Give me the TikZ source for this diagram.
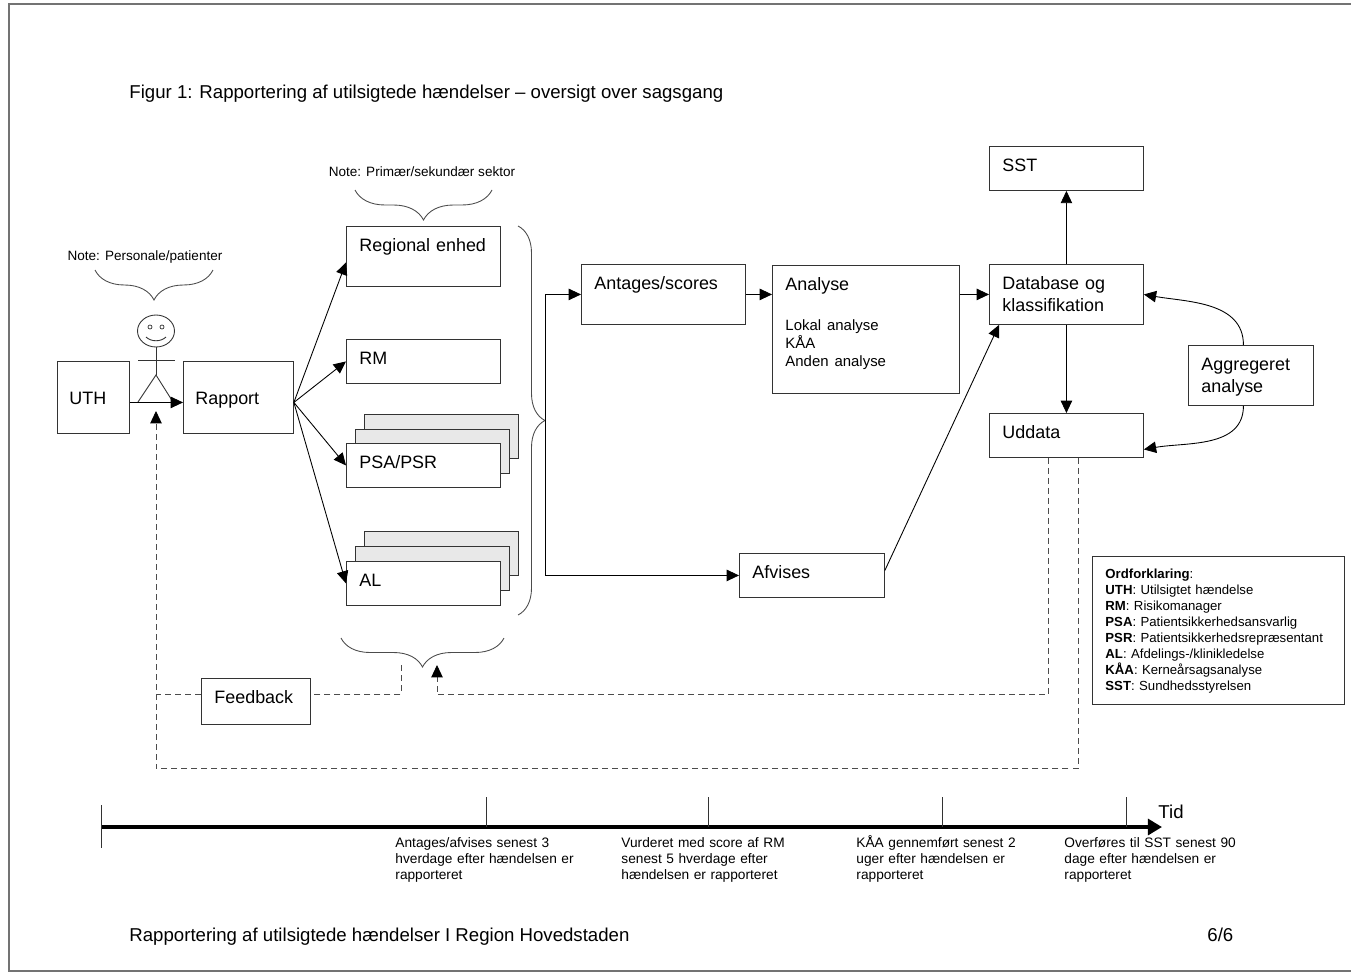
\documentclass[tikz,border=0pt]{standalone}
\usepackage{fontspec}
\setmainfont{Liberation Sans}
\usetikzlibrary{arrows.meta,decorations.pathreplacing}

\newcommand{\boxtxt}{\fontsize{10.2}{12.4}\selectfont}
\newcommand{\listtxt}{\fontsize{8.5}{10.2}\selectfont}
\newcommand{\notetxt}{\fontsize{7.7}{9.4}\selectfont}
\newcommand{\legendtxt}{\fontsize{7.5}{9.1}\selectfont}
\newcommand{\timetxt}{\fontsize{7.8}{9.35}\selectfont}
\newcommand{\titletxt}{\fontsize{10.6}{12.8}\selectfont}

\begin{document}
\begin{tikzpicture}[x=0.02cm,y=0.02cm,>={Triangle[length=7pt,width=6.5pt]},
  line width=0.5pt,
  box/.style 2 args={draw=black!80,fill=white,anchor=north west,
    inner xsep=0.26cm,inner ysep=0pt,align=left,text width=#1-0.52cm,
    text height=0.5cm,text depth=#2-0.5cm,font=\boxtxt},
  cbox/.style 2 args={box={#1}{#2},inner xsep=0.24cm,text width=#1-0.48cm,
    text height=0.86cm,text depth=#2-0.86cm},
  stack/.style={fill=black!9},
  legend/.style={draw=black!80,anchor=north west,inner xsep=0.26cm,
    inner ysep=0pt,align=left,text width=4.52cm,text height=0.44cm,
    text depth=2.52cm,font=\legendtxt},
  curly/.style={draw=black!70,decorate,decoration={brace,amplitude=#1}},
  fb/.style={draw=black!70,dash pattern=on 3.4pt off 2.3pt},
  fbtip/.style={-{Triangle[length=7pt,width=6.5pt,black]}},
  note/.style={font=\notetxt,inner sep=0pt,anchor=base},
  when/.style={font=\timetxt,inner sep=0pt,anchor=base west,
    text width=4cm,align=left},
  plain/.style={font=\titletxt,inner sep=0pt,anchor=base west}]

  \useasboundingbox (0,0) rectangle (1351,-974);
  % page frame
  \draw[black!55,line width=1.1pt] (1360,-4) -- (9,-4) -- (9,-971) -- (1360,-971);

  \node[plain] (title) at (129,-98) {Figur 1: Rapportering af utilsigtede hændelser – oversigt over sagsgang};
  \node[plain] (footer) at (129,-941) {Rapportering af utilsigtede hændelser I Region Hovedstaden};
  \node[plain] (page) at (1207,-941) {6/6};

  % reporter
  \node[cbox={1.44cm}{1.44cm}] (uth) at (57,-361) {UTH};
  \node[cbox={2.2cm}{1.44cm}] (rapport) at (183,-361) {Rapport};
  \coordinate (head) at (156,-331);
  \coordinate (feet) at (156,-411);
  \draw[black!80] (head) ellipse [x radius=0.37cm,y radius=0.32cm];
  \draw[black!80,line width=0.4pt] (150,-327) circle [radius=0.04cm]
    (162,-327) circle [radius=0.04cm];
  \draw[black!80] (146,-337) .. controls (151,-342) and (161,-342) .. (166,-337);
  \draw[black!80] (156,-347) -- (156,-375) (138,-360) -- (175,-360);
  \draw[black!80] (138,-402) -- (156,-375) -- (173,-402);
  \node[note] (note1) at (145,-260) {Note: Personale/patienter};
  \draw[curly=0.6cm] (213,-270) -- (95,-270);

  % receivers
  \node[note] (note2) at (422,-176) {Note: Primær/sekundær sektor};
  \draw[curly=0.6cm] (492,-190) -- (355,-190);
  \node[box={3.08cm}{1.2cm}] (regional) at (346,-226) {Regional enhed};
  \node[box={3.08cm}{0.88cm}] (rm) at (346,-339) {RM};
  \node[box={3.08cm}{0.88cm},stack] (psa3) at (364,-414) {};
  \node[box={3.08cm}{0.88cm},stack] (psa2) at (355,-429) {};
  \node[box={3.08cm}{0.88cm}] (psa) at (346,-443) {PSA/PSR};
  \node[box={3.08cm}{0.88cm},stack] (al3) at (364,-531) {};
  \node[box={3.08cm}{0.88cm},stack] (al2) at (355,-546) {};
  \node[box={3.08cm}{0.88cm}] (al) at (346,-561) {AL};
  \draw[curly=0.54cm] (518,-226) -- (518,-615);
  \coordinate (sorttip) at (545,-421);
  \draw[curly=0.58cm] (504,-638) -- (341,-638);
  \coordinate (fbout) at (401,-665);
  \coordinate (fbin) at (437,-665);

  % handling
  \node[box={3.28cm}{1.2cm}] (antages) at (581,-264) {Antages/scores};
  \node[box={3.74cm}{2.56cm}] (analyse) at (772,-265) {Analyse\par\vspace{12.5pt}%
    {\listtxt Lokal analyse\\KÅA\\Anden analyse\par}};
  \node[box={2.9cm}{0.88cm}] (afvises) at (739,-553) {Afvises};
  \node[box={3.08cm}{1.2cm}] (db) at (989,-264) {Database og\\klassifikation};
  \node[box={3.08cm}{0.88cm}] (sst) at (989,-146) {SST};
  \node[box={3.08cm}{0.88cm}] (uddata) at (989,-413) {Uddata};
  \node[box={2.5cm}{1.2cm}] (agg) at (1188,-345) {Aggregeret\\analyse};
  \node[box={2.18cm}{0.92cm}] (feedback) at (201,-678) {Feedback};

  \node[legend] (legend) at (1092,-556) {\textbf{Ordforklaring}:\\
    \textbf{UTH}: Utilsigtet hændelse\\
    \textbf{RM}: Risikomanager\\
    \textbf{PSA}: Patientsikkerhedsansvarlig\\
    \textbf{PSR}: Patientsikkerhedsrepræsentant\\
    \textbf{AL}: Afdelings-/klinikledelse\\
    \textbf{KÅA}: Kerneårsagsanalyse\\
    \textbf{SST}: Sundhedsstyrelsen};

  % connectors
  \draw[->] ([yshift=-0.1cm]uth.east) -- ([yshift=-0.1cm]rapport.west);
  \path[->] ([yshift=-0.1cm]rapport.east) edge ([yshift=-0.12cm]regional.west)
    edge (rm.west) edge (psa.west) edge (al.west);
  \draw[->] (sorttip) |- (antages.west);
  \draw[->] (sorttip) |- (afvises.west);
  \draw[->] (antages) -- (antages -| analyse.west);
  \draw[->] (analyse.east |- db) -- (db.west);
  \draw[->] ([yshift=0.1cm]afvises.east) -- ([xshift=0.2cm]db.south west);
  \draw[->] (db.north) -- (sst.south);
  \draw[->] (db.south) -- (uddata.north);
  \draw[->] ([xshift=-0.15cm]agg.north) to[out=90,in=-10] (db.east);
  \draw[->] ([xshift=-0.15cm]agg.south) to[out=-90,in=10] ([yshift=-0.28cm]uddata.east);

  % feedback loops
  \draw[fb,fbtip] ([xshift=0.23cm]uddata.south) -- ++(0,-311) -| (feet);
  \draw[fb,fbtip] ([xshift=-0.37cm]uddata.south) -- ++(0,-237) -| (fbin);
  \draw[fb] (fbout) |- ([yshift=0.14cm]feedback.east);
  \draw[fb] ([yshift=0.14cm]feedback.west) -- ([yshift=0.14cm]feedback.west -| feet);

  % time line
  \coordinate (t0) at (101,-827);
  \coordinate (tend) at (1162,-827);
  \draw[line width=2.8pt,-{Triangle[length=8pt,width=9pt]}] (t0) -- (tend);
  \draw[black!80] (101,-805) -- (101,-848)
    (486,-797) -- (486,-827) (708,-797) -- (708,-827)
    (942,-797) -- (942,-827) (1126,-797) -- (1126,-827);
  \node[plain] (tid) at (1158,-818) {Tid};
  \node[when] (when1) at (395,-847) {Antages/afvises senest 3\\hverdage efter hændelsen er\\rapporteret};
  \node[when] (when2) at (621,-847) {Vurderet med score af RM\\senest 5 hverdage efter\\hændelsen er rapporteret};
  \node[when] (when3) at (856,-847) {KÅA gennemført senest 2\\uger efter hændelsen er\\rapporteret};
  \node[when] (when4) at (1064,-847) {Overføres til SST senest 90\\dage efter hændelsen er\\rapporteret};
\end{tikzpicture}
\end{document}
